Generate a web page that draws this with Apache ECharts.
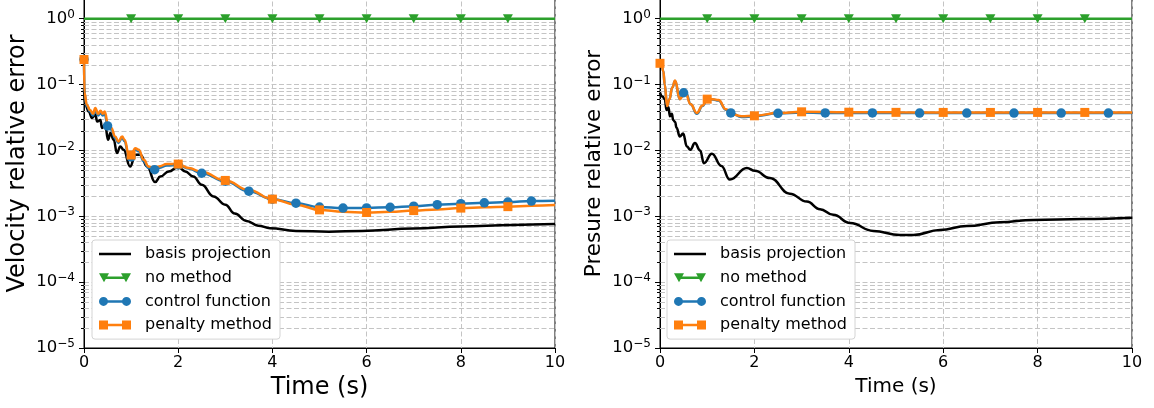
<!DOCTYPE html>
<html><head><meta charset="utf-8">
<script src="https://cdn.jsdelivr.net/npm/echarts@6/dist/echarts.min.js"></script>
<style>html,body{margin:0;padding:0;background:#fff}#c{width:1154px;height:408px}</style>
</head><body><div id="c"></div>
<script>
// ---------------- DATA ----------------
const seriesNames = ['basis projection', 'no method', 'control function', 'penalty method'];
const xTicks = [0, 2, 4, 6, 8, 10];

// Velocity (left panel)
const velT_basis = [0, 0.03, 0.1, 0.17, 0.24, 0.28, 0.35, 0.38, 0.45, 0.51, 0.56, 0.63, 0.7, 0.77, 0.84, 0.98, 1.09, 1.2, 1.34, 1.51, 1.62, 1.8, 2.0, 2.15, 2.32, 2.5, 2.75, 3.0, 3.2, 3.45, 3.7, 3.95, 4.5, 5.2, 5.9, 7.0, 8.0, 9.1, 10];
const velV_basis = [0.085, 0.049, 0.039, 0.031, 0.035, 0.0275, 0.029, 0.0219, 0.0245, 0.0145, 0.0183, 0.0145, 0.0091, 0.0115, 0.0102, 0.0057, 0.0086, 0.0086, 0.0057, 0.0033, 0.004, 0.0048, 0.0056, 0.0048, 0.004, 0.003, 0.002, 0.0015, 0.0011, 0.00085, 0.00072, 0.00066, 0.0006, 0.00058, 0.0006, 0.00065, 0.0007, 0.00074, 0.00076];

const noT = [0, 1, 2, 3, 4, 5, 6, 7, 8, 9, 10];
const noV = [1, 1, 1, 1, 1, 1, 1, 1, 1, 1, 1];
const noMarks = [1, 2, 3, 4, 5, 6, 7, 8, 9];

const velT_ctrl = [0, 0.01, 0.06, 0.13, 0.19, 0.24, 0.3, 0.35, 0.4, 0.44, 0.5, 0.58, 0.66, 0.73, 0.81, 0.86, 0.95, 1.0, 1.09, 1.16, 1.27, 1.37, 1.5, 1.59, 1.76, 2.0, 2.22, 2.5, 3.0, 3.5, 4.0, 4.5, 5.0, 5.5, 6.0, 6.5, 7.0, 7.5, 8.0, 8.5, 9.0, 9.5, 10];
const velV_ctrl = [0.24, 0.072, 0.047, 0.039, 0.034, 0.041, 0.034, 0.037, 0.034, 0.036, 0.0235, 0.0205, 0.0155, 0.013, 0.0155, 0.0138, 0.0082, 0.008, 0.0102, 0.0097, 0.0068, 0.0054, 0.0051, 0.0054, 0.0059, 0.006, 0.0053, 0.0045, 0.0034, 0.0024, 0.00182, 0.00158, 0.00138, 0.00133, 0.00134, 0.00137, 0.00142, 0.0015, 0.00155, 0.0016, 0.00164, 0.0017, 0.00172];
const velMarks_ctrl = [0, 0.5, 1, 1.5, 2, 2.5, 3, 3.5, 4, 4.5, 5, 5.5, 6, 6.5, 7, 7.5, 8, 8.5, 9, 9.5];

const velT_pen = [0, 0.01, 0.06, 0.13, 0.19, 0.24, 0.3, 0.35, 0.4, 0.44, 0.51, 0.58, 0.66, 0.73, 0.81, 0.86, 0.95, 1.0, 1.09, 1.16, 1.27, 1.37, 1.48, 1.59, 1.76, 2.0, 2.22, 2.5, 3.0, 3.5, 4.0, 4.5, 5.0, 5.5, 6.0, 6.5, 7.0, 7.5, 8.0, 8.5, 9.0, 9.5, 10];
const velV_pen = [0.24, 0.075, 0.049, 0.041, 0.036, 0.044, 0.036, 0.04, 0.036, 0.039, 0.0245, 0.0219, 0.0163, 0.0137, 0.0163, 0.0145, 0.0088, 0.0085, 0.0108, 0.0102, 0.0072, 0.0057, 0.0054, 0.0057, 0.0062, 0.0062, 0.0054, 0.0047, 0.0035, 0.0025, 0.00182, 0.0015, 0.00125, 0.00117, 0.00114, 0.00117, 0.00122, 0.00127, 0.00133, 0.00137, 0.0014, 0.00144, 0.00148];
const penMarks = [0, 1, 2, 3, 4, 5, 6, 7, 8, 9];

// Pressure (right panel)
const preT_basis = [0, 0.05, 0.1, 0.14, 0.18, 0.21, 0.25, 0.28, 0.32, 0.35, 0.42, 0.49, 0.57, 0.64, 0.74, 0.85, 0.93, 1.1, 1.3, 1.48, 1.84, 2.01, 2.33, 2.75, 3.11, 3.39, 3.67, 4.03, 4.52, 5.08, 5.37, 5.93, 6.5, 7.2, 7.91, 8.97, 10];
const preV_basis = [0.075, 0.066, 0.06, 0.041, 0.045, 0.033, 0.036, 0.029, 0.027, 0.022, 0.0163, 0.018, 0.0115, 0.0102, 0.0129, 0.01, 0.0064, 0.0089, 0.0058, 0.0036, 0.0054, 0.0049, 0.0038, 0.0022, 0.00167, 0.00128, 0.00105, 0.00079, 0.0006, 0.00052, 0.00052, 0.00062, 0.00071, 0.00081, 0.00088, 0.00091, 0.00095];

const preT_ctrl = [0, 0.03, 0.07, 0.1, 0.15, 0.2, 0.26, 0.32, 0.42, 0.5, 0.55, 0.65, 0.78, 0.9, 1.0, 1.12, 1.24, 1.4, 1.5, 1.73, 2.0, 2.5, 3.0, 3.5, 4.0, 4.5, 5.0, 5.5, 6.0, 6.5, 7.0, 7.5, 8.0, 8.5, 9.0, 9.5, 10];
const preV_ctrl = [0.21, 0.2, 0.16, 0.1, 0.047, 0.06, 0.09, 0.113, 0.06, 0.075, 0.076, 0.05, 0.036, 0.047, 0.059, 0.059, 0.057, 0.041, 0.037, 0.032, 0.033, 0.0365, 0.0375, 0.037, 0.037, 0.037, 0.0369, 0.0369, 0.0369, 0.0369, 0.0369, 0.0369, 0.0369, 0.0369, 0.0369, 0.0369, 0.0369];
const preMarks_ctrl = [0.5, 1.5, 2.5, 3.5, 4.5, 5.5, 6.5, 7.5, 8.5, 9.5];

const preT_pen = [0, 0.03, 0.07, 0.1, 0.15, 0.2, 0.26, 0.32, 0.42, 0.53, 0.65, 0.78, 0.9, 1.0, 1.12, 1.24, 1.4, 1.55, 1.73, 2.0, 2.5, 3.0, 4.0, 5.0, 6.0, 7.0, 8.0, 9.0, 10];
const preV_pen = [0.21, 0.2, 0.16, 0.1, 0.047, 0.06, 0.09, 0.115, 0.06, 0.078, 0.05, 0.037, 0.048, 0.06, 0.06, 0.058, 0.042, 0.035, 0.033, 0.0335, 0.037, 0.0385, 0.038, 0.0378, 0.0377, 0.0377, 0.0377, 0.0377, 0.0377];

// y-axis range and minor-grid multipliers
const yMin = 1e-5, yMax = 4;
const minorMult = [2, 3, 4, 5, 6, 7, 8, 9];
const minorExp = [-5, -4, -3, -2, -1];

// ---------------- STYLE ----------------
const FONT = 'DejaVu Sans';
const COL = ['#000000', '#2ca02c', '#1f77b4', '#ff7f0e'];
const GRIDC = '#c4c4c4';
const DASH = [5, 2.5];
const LW = 2.5;

function items(ts, vs, marks) {
  return ts.map((t, i) => {
    const m = marks.some(k => Math.abs(k - t) < 1e-9);
    return m ? { value: [t, vs[i]] } : { value: [t, vs[i]], symbol: 'none' };
  });
}
const minorData = [];
minorExp.forEach(e => minorMult.forEach(m => minorData.push([0, m * Math.pow(10, e)])));

function fmtY(v) {
  const e = Math.round(Math.log10(v));
  if (Math.abs(v / Math.pow(10, e) - 1) > 1e-6) return '';
  return '{b|10}{s|' + (e < 0 ? '\u2212' + (-e) : String(e)) + '}';
}

const grids = [
  { left: 84, top: -21, width: 471, height: 369 },
  { left: 660, top: -21, width: 472, height: 369 }
].map(g => Object.assign(g, { show: true, borderColor: '#000', borderWidth: 1, backgroundColor: 'transparent', containLabel: false, outerBoundsMode: 'none' }));

function xAx(gi, nameSize, gap) {
  return {
    type: 'value', gridIndex: gi, min: 0, max: 10, interval: 2,
    name: 'Time (s)', nameLocation: 'middle', nameGap: gap,
    nameTextStyle: { fontFamily: FONT, fontSize: nameSize, color: '#000' },
    axisLine: { show: true, onZero: false, lineStyle: { color: '#000', width: 1 } },
    axisTick: { show: true, length: 5, inside: false, lineStyle: { color: '#000' } },
    axisLabel: { fontFamily: FONT, fontSize: 16, color: '#000', margin: 7 },
    splitLine: { show: true, lineStyle: { color: GRIDC, type: DASH, width: 1 } }
  };
}
function yAx(gi, name, nameSize, gap) {
  return {
    type: 'log', logBase: 10, gridIndex: gi, min: yMin, max: yMax,
    name: name, nameLocation: 'middle', nameGap: gap,
    nameTextStyle: { fontFamily: FONT, fontSize: nameSize, color: '#000' },
    axisLine: { show: true, onZero: false, lineStyle: { color: '#000', width: 1 } },
    axisTick: { show: true, length: 5, inside: false, lineStyle: { color: '#000' } },
    axisLabel: {
      formatter: fmtY, margin: 9,
      rich: {
        b: { fontFamily: FONT, fontSize: 16.5, color: '#000' },
        s: { fontFamily: FONT, fontSize: 12, color: '#000', padding: [0, 0, 8, 0] }
      }
    },
    splitLine: { show: true, lineStyle: { color: GRIDC, type: DASH, width: 1 } },
    minorTick: { show: false }, minorSplitLine: { show: false }
  };
}

function minorSeries(gi) {
  return {
    type: 'custom', xAxisIndex: gi, yAxisIndex: gi, silent: true, z: 1, clip: false,
    encode: { x: 0, y: 1 }, data: minorData, animation: false,
    renderItem: function (params, api) {
      const v = api.value(1);
      const p0 = api.coord([0, v]);
      const p1 = api.coord([10, v]);
      const y = Math.round(p0[1]) + 0.5;
      return {
        type: 'group', children: [
          { type: 'line', shape: { x1: p0[0], y1: y, x2: p1[0], y2: y }, style: { stroke: GRIDC, lineWidth: 1, lineDash: DASH } },
          { type: 'line', shape: { x1: p0[0] - 3, y1: y, x2: p0[0], y2: y }, style: { stroke: '#000', lineWidth: 1 } }
        ]
      };
    }
  };
}

function lineS(gi, idx, data, symbol, size, rotate) {
  return {
    type: 'line', name: seriesNames[idx], xAxisIndex: gi, yAxisIndex: gi, data: data,
    z: 3, smooth: 0.45, smoothMonotone: 'x',
    symbol: symbol || 'none', symbolSize: size || 0, symbolRotate: rotate || 0, showSymbol: true,
    lineStyle: { color: COL[idx], width: LW },
    itemStyle: { color: COL[idx], borderWidth: 0 },
    emphasis: { disabled: true }, animation: false, clip: true
  };
}

const series = [
  minorSeries(0), minorSeries(1),
  lineS(0, 0, items(velT_basis, velV_basis, [])),
  lineS(0, 1, items(noT, noV, noMarks), 'triangle', [10, 9], 180),
  lineS(0, 2, items(velT_ctrl, velV_ctrl, velMarks_ctrl), 'circle', 9.5),
  lineS(0, 3, items(velT_pen, velV_pen, penMarks), 'rect', 9),
  lineS(1, 0, items(preT_basis, preV_basis, [])),
  lineS(1, 1, items(noT, noV, noMarks), 'triangle', [10, 9], 180),
  lineS(1, 2, items(preT_ctrl, preV_ctrl, preMarks_ctrl), 'circle', 9.5),
  lineS(1, 3, items(preT_pen, preV_pen, penMarks), 'rect', 9)
];

const ICONS = [
  'path://M0,0L0,0ZM0,3.25L32,3.25L32,5.75L0,5.75ZM0,9L0,9Z',
  'path://M0,0L10,0L5,9ZM22,0L32,0L27,9ZM5,3.25L27,3.25L27,5.75L5,5.75Z',
  'path://M0,4.5A4.5,4.5 0 1,1 9,4.5A4.5,4.5 0 1,1 0,4.5ZM23,4.5A4.5,4.5 0 1,1 32,4.5A4.5,4.5 0 1,1 23,4.5ZM4.5,3.25L27.5,3.25L27.5,5.75L4.5,5.75Z',
  'path://M0,0L9,0L9,9L0,9ZM23,0L32,0L32,9L23,9ZM4.5,3.25L27.5,3.25L27.5,5.75L4.5,5.75Z'
];
function legendAt(left) {
  return {
    left: left, top: 240, orient: 'vertical', selectedMode: false,
    backgroundColor: '#fff', borderColor: '#d4d4d4', borderWidth: 1, borderRadius: 3,
    padding: [6, 8, 6, 7], itemGap: 7.7, itemWidth: 32, itemHeight: 9,
    textStyle: { fontFamily: FONT, fontSize: 16, color: '#000', lineHeight: 16, padding: [0, 0, 0, 9] },
    data: seriesNames.map((n, i) => ({ name: n, icon: ICONS[i] }))
  };
}

const chart = echarts.init(document.getElementById('c'), null, { renderer: 'canvas' });
chart.setOption({
  animation: false,
  backgroundColor: '#fff',
  grid: grids,
  xAxis: [xAx(0, 24, 27), xAx(1, 20, 29)],
  yAxis: [yAx(0, 'Velocity relative error', 24, 54), yAx(1, 'Presure relative error', 21.5, 55)],
  legend: [legendAt(92), legendAt(667)],
  series: series
});
</script></body></html>
